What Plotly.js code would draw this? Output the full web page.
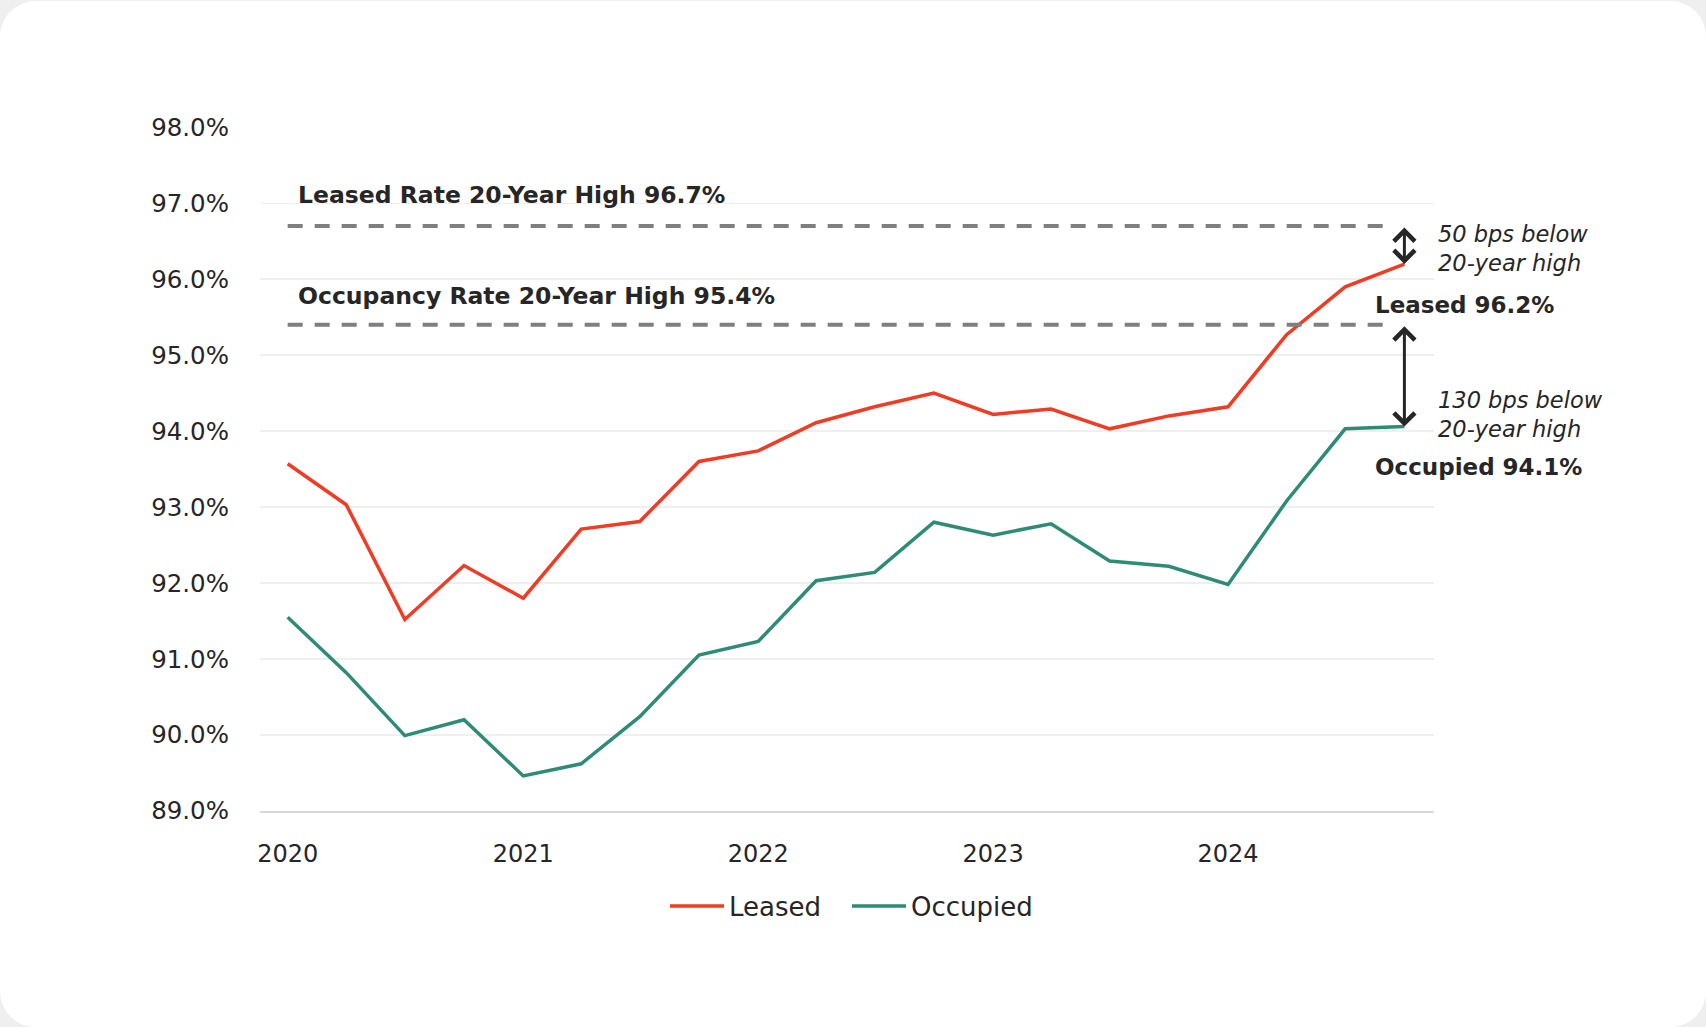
<!DOCTYPE html>
<html>
<head>
<meta charset="utf-8">
<script src="https://cdn.plot.ly/plotly-3.0.1.min.js"></script>
<style>
  html, body { margin: 0; padding: 0; background: #efefef; }
  #card { position: absolute; left: 0; top: 1px; width: 1706px; height: 1026px;
          background: #ffffff; border-radius: 36px; overflow: hidden; }
  #chart { position: absolute; left: 0; top: -1px; width: 1706px; height: 1027px; }
  /* lengthen the legend key lines and move the labels after them */
  #chart .legend .scrollbox { clip-path: none !important; }
  #chart .legend .legendlines path { transform: translateX(-4px) scaleX(1.8); }
  #chart .legend .legendtext { transform: translateX(24px); }
</style>
</head>
<body>
<div id="card"><div id="chart"></div></div>
<script>
// ---- data ----
const quarters = [
  '2020-01-01','2020-04-01','2020-07-01','2020-10-01',
  '2021-01-01','2021-04-01','2021-07-01','2021-10-01',
  '2022-01-01','2022-04-01','2022-07-01','2022-10-01',
  '2023-01-01','2023-04-01','2023-07-01','2023-10-01',
  '2024-01-01','2024-04-01','2024-07-01','2024-10-01'
];
const leased = [93.57, 93.03, 91.52, 92.23, 91.80, 92.71, 92.81, 93.60, 93.74, 94.11,
                94.32, 94.50, 94.22, 94.29, 94.03, 94.20, 94.32, 95.27, 95.90, 96.20];
const occupied = [91.55, 90.82, 89.99, 90.20, 89.46, 89.62, 90.24, 91.05, 91.23, 92.03,
                  92.14, 92.80, 92.63, 92.78, 92.29, 92.22, 91.98, 93.08, 94.03, 94.06];
const leasedHigh = 96.7;
const occupancyHigh = 95.4;
const seriesNames = ['Leased', 'Occupied'];
const yTickVals = [89, 90, 91, 92, 93, 94, 95, 96, 97, 98];
const yTickText = ['89.0%', '90.0%', '91.0%', '92.0%', '93.0%', '94.0%', '95.0%', '96.0%', '97.0%', '98.0%'];
const labels = {
  leasedHigh: 'Leased Rate 20-Year High 96.7%',
  occHigh: 'Occupancy Rate 20-Year High 95.4%',
  leasedGap: '50 bps below<br>20-year high',
  occGap: '130 bps below<br>20-year high',
  leasedNow: 'Leased 96.2%',
  occNow: 'Occupied 94.1%'
};

// ---- styling / layout helpers ----
const RED = 'rgb(240,60,36)';
const TEAL = 'rgb(46,139,117)';
const INK = '#262626';
const FONT = 'DejaVu Sans';
const L = 260, R = 272, T = 127, B = 216, W = 1706, H = 1027;
const pw = W - L - R, ph = H - T - B;
const px = x => (x - L) / pw;
const py = y => (H - B - y) / ph;
const last = quarters.length - 1;

const traces = [
  { x: quarters, y: leased, name: seriesNames[0], type: 'scatter', mode: 'lines',
    line: { color: RED, width: 3.5 }, hoverinfo: 'skip' },
  { x: quarters, y: occupied, name: seriesNames[1], type: 'scatter', mode: 'lines',
    line: { color: TEAL, width: 3.5 }, hoverinfo: 'skip' }
];

const boldFont = { family: FONT, size: 23.5, color: INK, weight: 'bold' };
const boldFontR = { family: FONT, size: 23, color: INK, weight: 'bold' };
const italFont = { family: FONT, size: 22.5, color: INK, style: 'italic' };

function textAnn(text, xpx, ypx, font) {
  return { text: text, xref: 'paper', yref: 'paper', x: px(xpx), y: py(ypx),
           xanchor: 'left', yanchor: 'middle', align: 'left', showarrow: false, font: font };
}
function arrowAnn(yHead, yTail) {
  return { text: '', xref: 'x', yref: 'y', axref: 'x', ayref: 'y',
           x: quarters[last], y: yHead, ax: quarters[last], ay: yTail,
           showarrow: true, arrowside: 'end+start', arrowhead: 4, startarrowhead: 4,
           arrowsize: 1.35, startarrowsize: 1.35, arrowwidth: 3, arrowcolor: INK,
           standoff: 0, startstandoff: 0 };
}

const layout = {
  width: W, height: H,
  margin: { l: L, r: R, t: T, b: B },
  paper_bgcolor: '#ffffff', plot_bgcolor: '#ffffff',
  font: { family: FONT, size: 24, color: INK },
  showlegend: true,
  legend: { orientation: 'h', x: 0.5, xanchor: 'center', y: py(906), yanchor: 'middle',
            entrywidth: 137, entrywidthmode: 'pixels',
            font: { family: FONT, size: 26, color: INK }, bgcolor: 'rgba(0,0,0,0)' },
  xaxis: {
    type: 'date', range: ['2019-11-19', '2024-11-16'],
    tickformat: '%Y', dtick: 'M12', tick0: '2020-01-01',
    showgrid: false, zeroline: false,
    showline: true, linecolor: '#d9d9d9', linewidth: 2,
    ticks: '', ticklabelstandoff: 20,
    tickfont: { family: FONT, size: 24, color: INK }
  },
  yaxis: {
    range: [88.998, 98.004], tickmode: 'array', tickvals: yTickVals, ticktext: yTickText,
    showgrid: true, gridcolor: '#efefef', gridwidth: 1.5,
    zeroline: false, showline: false, ticks: '', ticklabelstandoff: 30,
    tickfont: { family: FONT, size: 24.5, color: INK }
  },
  shapes: [
    { type: 'line', xref: 'x', yref: 'y', x0: quarters[0], x1: '2024-09-15',
      y0: leasedHigh, y1: leasedHigh, line: { color: '#7f7f7f', width: 4, dash: '15px,12px' } },
    { type: 'line', xref: 'x', yref: 'y', x0: quarters[0], x1: '2024-09-15',
      y0: occupancyHigh, y1: occupancyHigh, line: { color: '#7f7f7f', width: 4, dash: '15px,12px' } }
  ],
  annotations: [
    textAnn(labels.leasedHigh, 296, 195, boldFont),
    textAnn(labels.occHigh, 296, 296, boldFont),
    textAnn(labels.leasedGap, 1436, 249, italFont),
    textAnn(labels.occGap, 1436, 414, italFont),
    textAnn(labels.leasedNow, 1373, 305, boldFontR),
    textAnn(labels.occNow, 1373, 467, boldFontR),
    arrowAnn(leased[last], leasedHigh),
    arrowAnn(occupied[last], occupancyHigh)
  ]
};

Plotly.newPlot('chart', traces, layout, { displayModeBar: false, staticPlot: true });
</script>
</body>
</html>
